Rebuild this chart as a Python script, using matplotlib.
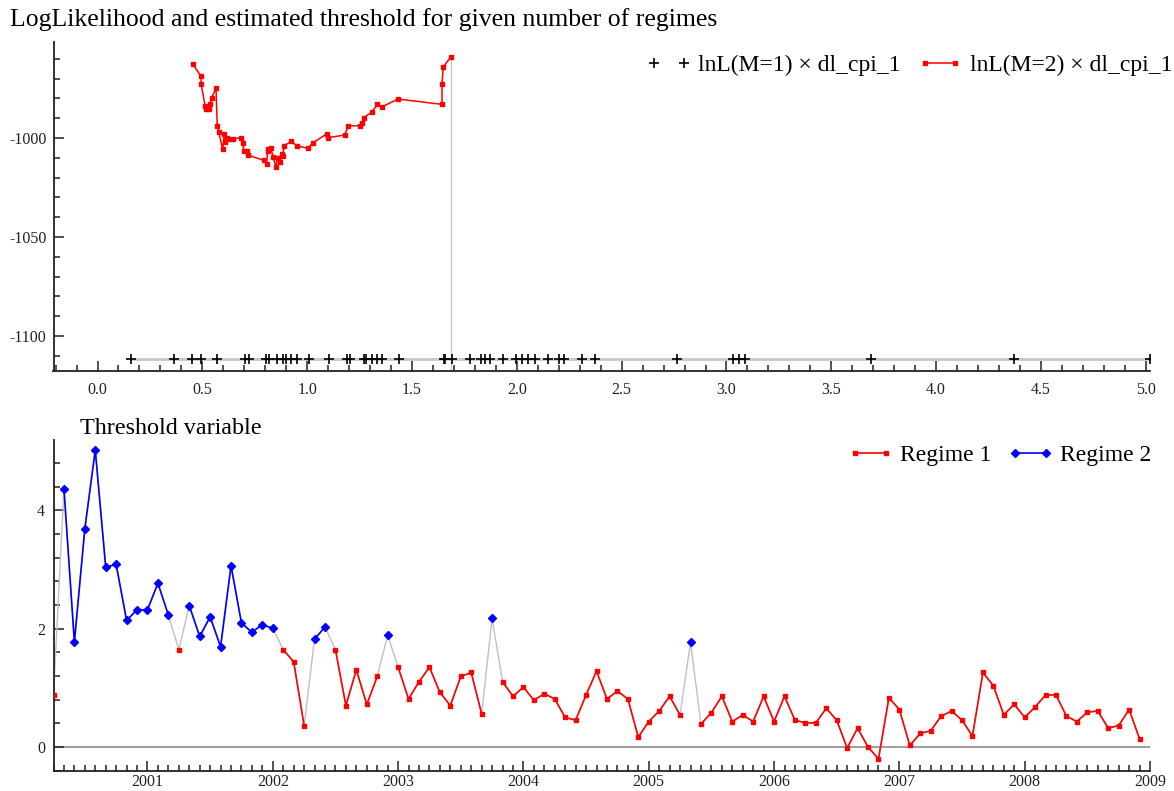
import numpy as np
import matplotlib
matplotlib.use("Agg")
import matplotlib.pyplot as plt
from matplotlib.ticker import MultipleLocator, FormatStrFormatter

plt.rcParams['font.family'] = ['Liberation Serif', 'DejaVu Serif']
plt.rcParams['axes.unicode_minus'] = False

# --- top panel: log-likelihood over the threshold grid
grid_m1 = [0.162, 0.365, 0.452, 0.495, 0.571, 0.702, 0.721, 0.803, 0.816, 0.857,
           0.884, 0.897, 0.924, 0.952, 1.010, 1.105, 1.190, 1.206, 1.270, 1.279,
           1.311, 1.333, 1.359, 1.440, 1.651, 1.657, 1.689, 1.778, 1.829, 1.849,
           1.873, 1.933, 1.997, 2.024, 2.051, 2.087, 2.151, 2.200, 2.225, 2.313,
           2.373, 2.762, 3.033, 3.062, 3.090, 3.690, 4.370, 5.020]
lnl_m1 = -1111.6

grid_m2 = [0.454, 0.494, 0.494, 0.513, 0.518, 0.533, 0.538, 0.544, 0.565, 0.571,
           0.578, 0.597, 0.605, 0.610, 0.616, 0.625, 0.644, 0.682, 0.695, 0.697,
           0.714, 0.716, 0.795, 0.806, 0.811, 0.814, 0.827, 0.838, 0.851, 0.859,
           0.870, 0.880, 0.884, 0.889, 0.925, 0.951, 1.003, 1.027, 1.094, 1.101,
           1.178, 1.197, 1.251, 1.263, 1.270, 1.308, 1.335, 1.356, 1.433, 1.643,
           1.643, 1.649, 1.684]
lnl_m2 = [-962.8, -968.7, -972.7, -983.7, -985.5, -985.5, -983.0, -979.6, -974.9, -993.8,
          -997.1, -1005.7, -997.8, -1001.9, -999.8, -1000.5, -1000.5, -999.8, -1002.5, -1006.6,
          -1006.6, -1008.6, -1011.3, -1013.3, -1006.6, -1005.7, -1005.2, -1009.7, -1014.5, -1010.3,
          -1012.0, -1007.9, -1009.2, -1003.9, -1001.7, -1003.9, -1005.2, -1002.5, -997.8, -999.8,
          -998.5, -993.8, -993.8, -992.4, -989.7, -986.9, -983.0, -984.3, -980.3, -983.0,
          -972.7, -964.1, -959.2]

# --- bottom panel: threshold variable, monthly from 2000(4)
start_year, start_month = 2000, 4
dl_cpi_1 = [0.873, 4.366, 1.775, 3.69, 5.02, 3.04, 3.087, 2.14, 2.32, 2.32,
            2.77, 2.23, 1.645, 2.39, 1.87, 2.20, 1.695, 3.065, 2.096, 1.94,
            2.07, 2.005, 1.645, 1.44, 0.36, 1.825, 2.03, 1.645, 0.70, 1.305,
            0.72, 1.193, 1.888, 1.35, 0.812, 1.104, 1.35, 0.924, 0.70, 1.193,
            1.26, 0.56, 2.174, 1.104, 0.857, 1.014, 0.79, 0.902, 0.812, 0.50,
            0.454, 0.88, 1.283, 0.812, 0.947, 0.812, 0.168, 0.431, 0.61, 0.857,
            0.543, 1.77, 0.387, 0.583, 0.857, 0.431, 0.543, 0.431, 0.857, 0.431,
            0.857, 0.454, 0.409, 0.409, 0.655, 0.454, -0.017, 0.319, 0.0, -0.20,
            0.835, 0.633, 0.028, 0.23, 0.275, 0.521, 0.61, 0.454, 0.185, 1.26,
            1.036, 0.543, 0.723, 0.50, 0.678, 0.88, 0.88, 0.521, 0.431, 0.588,
            0.61, 0.319, 0.364, 0.633, 0.14]

best = int(np.argmax(lnl_m2))
threshold = grid_m2[best]

W, H = 1174, 791
fig = plt.figure(figsize=(W / 100, H / 100), dpi=100)
ax1 = fig.add_axes([53.5 / W, 1 - 370.7 / H, (1150 - 53.5) / W, (370.7 - 42) / H])
ax2 = fig.add_axes([53.5 / W, 1 - 770.7 / H, (1150 - 53.5) / W, (770.7 - 440) / H])


def style(ax):
    for s in ('top', 'right'):
        ax.spines[s].set_visible(False)
    for s in ('left', 'bottom'):
        ax.spines[s].set_color('#222222')
        ax.spines[s].set_linewidth(1.3)
    ax.tick_params(which='both', direction='in', colors='#222222', labelsize=11.5, width=1.1)
    ax.tick_params(which='major', length=7)
    ax.tick_params(which='minor', length=4)


# top panel
style(ax1)
ax1.set_xlim(-0.21, 5.02)
ax1.set_ylim(-1117.5, -951.5)
m1 = np.full(len(grid_m1), lnl_m1)
ax1.plot(grid_m1, m1, color='#c8c8c8', lw=2, zorder=1)
ax1.vlines(threshold, ax1.get_ylim()[0], lnl_m2[best], color='#c8c8c8', lw=1, zorder=1)
ax1.plot(grid_m2, lnl_m2, color='red', lw=1.1, marker='s', ms=3.5, mec='red',
         label='lnL(M=2) × dl_cpi_1', zorder=3)
ax1.plot(grid_m1, m1, ls='none', color='black', marker='+', ms=7, mew=1.2,
         label='lnL(M=1) × dl_cpi_1', zorder=4)
ax1.xaxis.set_major_locator(MultipleLocator(0.5))
ax1.xaxis.set_minor_locator(MultipleLocator(0.1))
ax1.xaxis.set_major_formatter(FormatStrFormatter('%.1f'))
ax1.yaxis.set_major_locator(MultipleLocator(50))
ax1.yaxis.set_minor_locator(MultipleLocator(10))
ax1.tick_params(axis='x', pad=8)
ax1.tick_params(axis='y', pad=5)
h, l = ax1.get_legend_handles_labels()
ax1.legend(h[::-1], l[::-1], loc='center right', ncol=2, frameon=False, fontsize=17,
           numpoints=2, handlelength=1.9, handletextpad=0.3, columnspacing=0.7,
           borderpad=0, borderaxespad=0,
           bbox_to_anchor=(1172 / W, 1 - 65 / H), bbox_transform=fig.transFigure)

# bottom panel
style(ax2)
t = start_year + (start_month - 1 + np.arange(len(dl_cpi_1))) / 12
v = np.array(dl_cpi_1)
reg1 = np.where(v <= threshold, v, np.nan)
reg2 = np.where(v > threshold, v, np.nan)
ax2.axhline(0, color='#a0a0a0', lw=1.5, zorder=1)
ax2.plot(t, v, color='#c0c0c0', lw=1, zorder=2)
ax2.plot(t, reg1, color='red', lw=1.2, marker='s', ms=3.5, mec='red', label='Regime 1', zorder=3)
ax2.plot(t, reg2, color='blue', lw=1.2, marker='D', ms=4.5, mec='blue', label='Regime 2', zorder=3)
ax2.set_xlim(t[0], 2009)
ax2.set_ylim(-0.40, 5.19)
ax2.xaxis.set_major_locator(MultipleLocator(1))
ax2.xaxis.set_minor_locator(MultipleLocator(1 / 12))
ax2.xaxis.set_major_formatter(FormatStrFormatter('%d'))
ax2.yaxis.set_major_locator(MultipleLocator(2))
ax2.yaxis.set_minor_locator(MultipleLocator(0.4))
ax2.tick_params(axis='x', pad=2.5)
ax2.tick_params(axis='y', pad=6)
ax2.legend(loc='center right', ncol=2, frameon=False, fontsize=17, numpoints=2,
           handlelength=1.9, handletextpad=0.3, columnspacing=0.7,
           borderpad=0, borderaxespad=0,
           bbox_to_anchor=(1151 / W, 1 - 455 / H), bbox_transform=fig.transFigure)

fig.text(10 / W, 1 - 20 / H, 'LogLikelihood and estimated threshold for given number of regimes',
         fontsize=18.5, ha='left', va='center')
fig.text(80 / W, 1 - 428 / H, 'Threshold variable', fontsize=17.4, ha='left', va='center')

fig.savefig('out.png', dpi=100)
